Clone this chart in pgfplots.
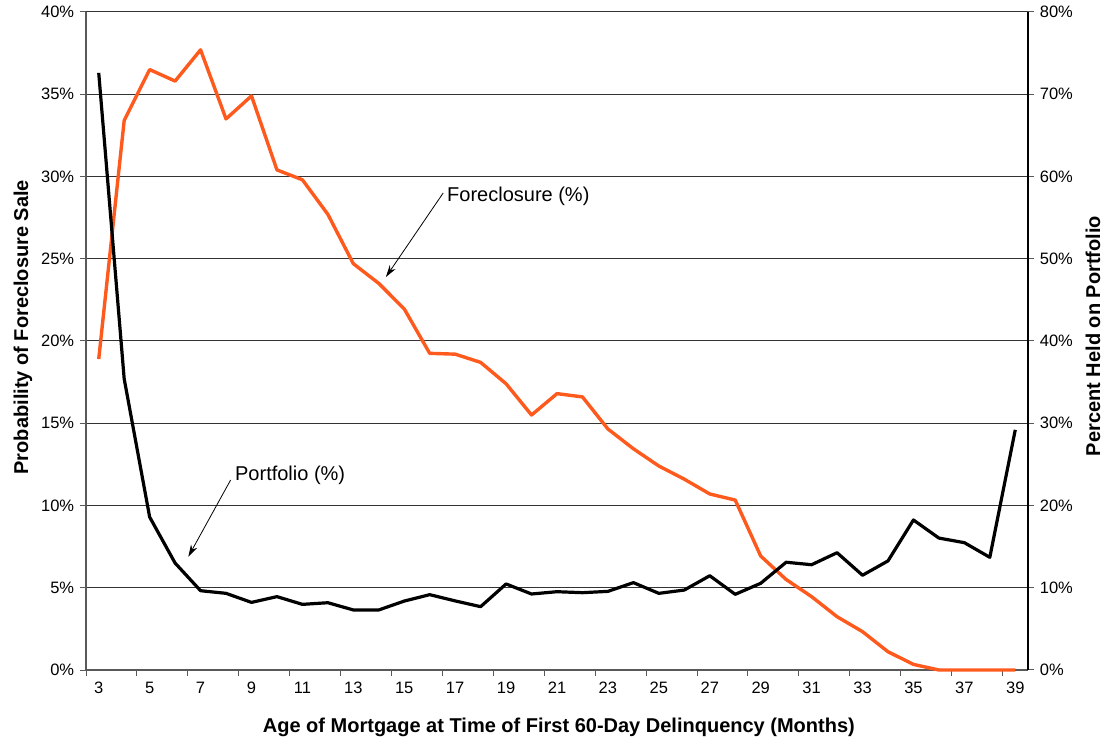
\documentclass[border=0pt]{standalone}
\usepackage{pgfplots}
\pgfplotsset{compat=1.18}
\usepackage{fontspec}
\setmainfont{Liberation Sans}
\usetikzlibrary{arrows.meta}
\definecolor{orng}{RGB}{255,90,30}
\pgfplotstableread{
x fc
3 18.9
4 33.4
5 36.5
6 35.8
7 37.7
8 33.5
9 34.9
10 30.4
11 29.8
12 27.7
13 24.7
14 23.5
15 21.95
16 19.25
17 19.2
18 18.7
19 17.4
20 15.5
21 16.8
22 16.6
23 14.65
24 13.45
25 12.4
26 11.6
27 10.7
28 10.33
29 6.93
30 5.5
31 4.46
32 3.24
33 2.33
34 1.11
35 0.34
36 0.0
37 0.0
38 0.0
39 0.0
}\fctable
\pgfplotstableread{
x pf
3 72.6
4 35.4
5 18.6
6 13.0
7 9.64
8 9.32
9 8.22
10 8.92
11 7.98
12 8.18
13 7.3
14 7.3
15 8.38
16 9.16
17 8.4
18 7.7
19 10.46
20 9.24
21 9.52
22 9.4
23 9.56
24 10.62
25 9.32
26 9.72
27 11.46
28 9.2
29 10.54
30 13.1
31 12.8
32 14.26
33 11.52
34 13.26
35 18.24
36 16.04
37 15.48
38 13.7
39 29.2
}\pftable
\begin{document}
\fontsize{17pt}{20pt}\selectfont
\begin{tikzpicture}
\useasboundingbox (0,0) rectangle (1109pt,742pt);
\pgfplotsset{
  common/.style={
    at={(86pt,72pt)}, anchor=south west,
    scale only axis, width=942pt, height=658pt,
    xmin=2.5, xmax=39.5,
    tick align=outside,
    tick label style={font=\fontsize{16.5pt}{19pt}\selectfont},
    label style={font=\fontsize{20pt}{23pt}\selectfont\bfseries},
    major tick length=6pt,
    /pgf/number format/assume math mode=true,
  }
}
\begin{axis}[common,
  ymin=0, ymax=40,
  axis x line*=bottom, axis y line*=left,
  axis line style={black!65, line width=1.3pt},
  xtick={3,5,...,39},
  minor xtick={2.5,4.5,...,38.5},
  major x tick style={draw=none},
  minor x tick style={black!65, line width=1pt},
  minor tick length=6pt,
  ytick={0,5,...,40},
  y tick style={black!65, line width=1pt},
  yticklabel={\pgfmathprintnumber{\tick}\%},
  ymajorgrids,
  grid style={black!80, line width=1pt},
  xlabel={Age of Mortgage at Time of First 60-Day Delinquency (Months)},
  ylabel={Probability of Foreclosure Sale},
  xlabel style={at={(axis description cs:0.502,0)}, anchor=center, yshift=-57pt},
  ylabel style={at={(axis description cs:-0.0669,0.521)}, anchor=center},
  clip=false,
]
\addplot[orng, line width=3.4pt, line join=round] table[x=x,y=fc] {\fctable};
\node[anchor=base west, inner sep=0pt, font=\fontsize{20pt}{23pt}\selectfont] at (axis cs:16.68,28.51) {Foreclosure (\%)};
\draw[black, line width=0.8pt, -{Stealth[length=12pt,width=7pt]}] (axis cs:16.53,29.0) -- (axis cs:14.28,23.89);
\node[anchor=base west, inner sep=0pt, font=\fontsize{20pt}{23pt}\selectfont] at (axis cs:8.35,11.55) {Portfolio (\%)};
\draw[black, line width=0.8pt, -{Stealth[length=12pt,width=7pt]}] (axis cs:8.18,11.55) -- (axis cs:6.52,6.89);
\end{axis}
\begin{axis}[common,
  ymin=0, ymax=80,
  axis x line=none, axis y line*=right,
  axis line style={black, line width=1.3pt},
  xtick=\empty,
  ytick={0,10,...,80},
  y tick style={black!65, line width=1pt},
  yticklabel={\pgfmathprintnumber{\tick}\%},
  ylabel={Percent Held on Portfolio},
  ylabel style={at={(axis description cs:1.069,0.5076)}, anchor=center, rotate=0},
]
\addplot[black, line width=3.2pt, line join=round] table[x=x,y=pf] {\pftable};
\end{axis}
\end{tikzpicture}
\end{document}
